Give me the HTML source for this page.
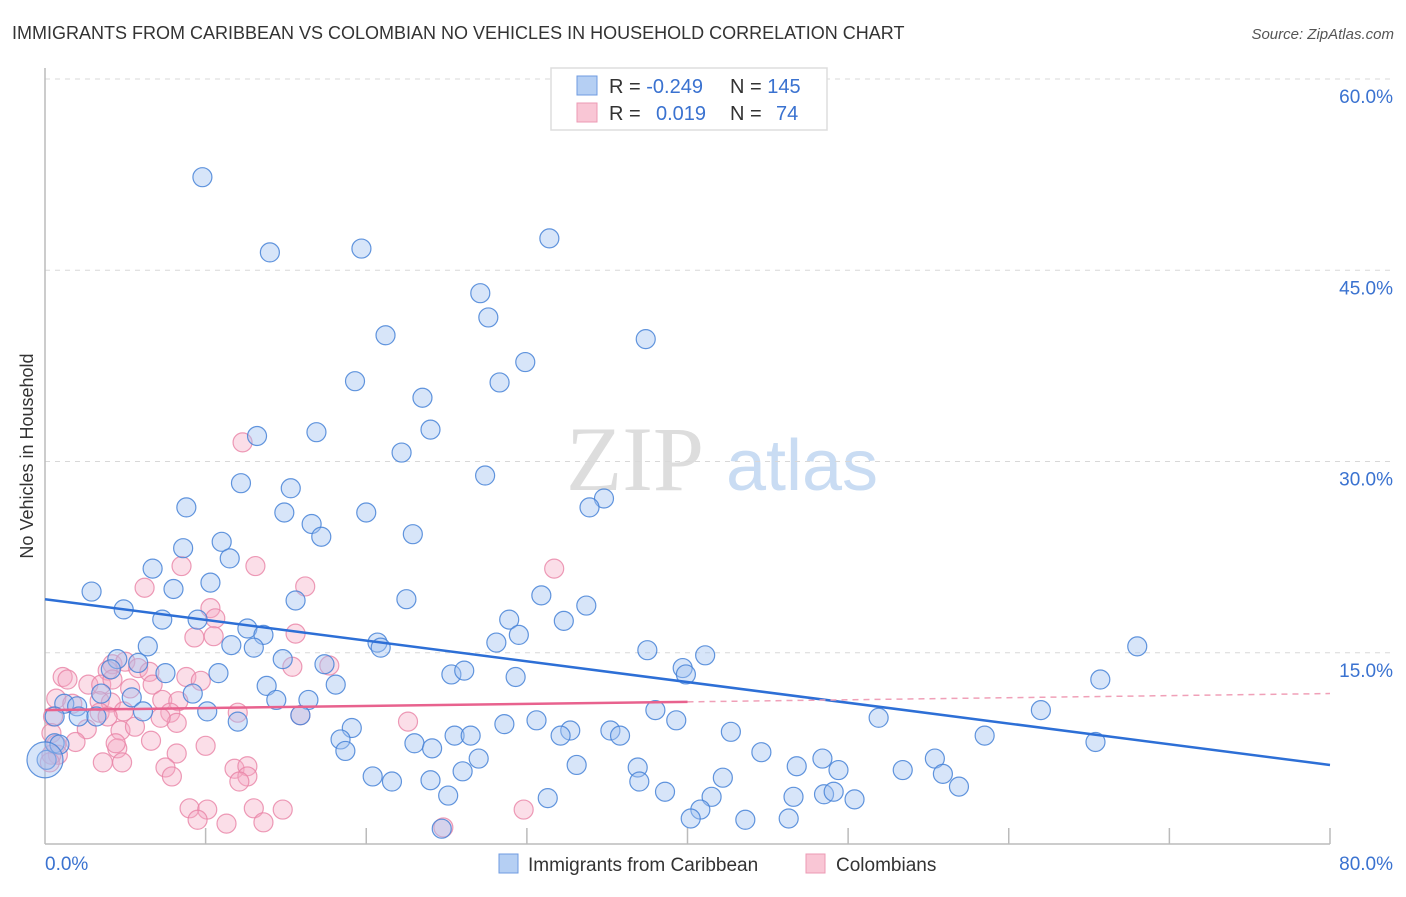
<!DOCTYPE html>
<html><head><meta charset="utf-8"><style>
body{margin:0;background:#fff;font-family:"Liberation Sans",sans-serif}
svg text{font-family:"Liberation Sans",sans-serif}
</style></head><body>
<svg id="chart" width="1406" height="892" xmlns="http://www.w3.org/2000/svg">
<text x="12" y="39" font-size="18" fill="#333">IMMIGRANTS FROM CARIBBEAN VS COLOMBIAN NO VEHICLES IN HOUSEHOLD CORRELATION CHART</text>
<text x="1394" y="39" font-size="15" fill="#555" font-style="italic" text-anchor="end">Source: ZipAtlas.com</text>
<text x="33" y="456" font-size="18" fill="#333" text-anchor="middle" transform="rotate(-90 33 456)">No Vehicles in Household</text>
<g>
<text x="635" y="490" font-size="92" fill="#ddd" text-anchor="middle" font-family="Liberation Serif" style="font-family:'Liberation Serif',serif">ZIP</text>
<text x="802" y="490" font-size="72" fill="#c9dcf3" text-anchor="middle">atlas</text>
</g>
<g id="grid"></g><g id="axes"></g><g id="trend"></g><g id="pts"></g>
<g>
<rect x="551" y="68" width="276" height="62" fill="#fff" stroke="#ddd" stroke-width="1.5"/>
<rect x="577" y="76" width="20" height="19" fill="#b5cff3" stroke="#6f9be0"/>
<rect x="577" y="103" width="20" height="19" fill="#f9c6d5" stroke="#ec9ab4"/>
<text x="609" y="93" font-size="20" fill="#333">R = <tspan fill="#3a72d0">-0.249</tspan></text>
<text x="730" y="93" font-size="20" fill="#333">N = <tspan fill="#3a72d0">145</tspan></text>
<text x="609" y="120" font-size="20" fill="#333">R = <tspan fill="#3a72d0" x="656">0.019</tspan></text>
<text x="730" y="120" font-size="20" fill="#333">N = <tspan fill="#3a72d0" x="776">74</tspan></text>
</g>
<g>
<rect x="499" y="854" width="19" height="19" fill="#b5cff3" stroke="#6f9be0"/>
<text x="528" y="871" font-size="19" fill="#333">Immigrants from Caribbean</text>
<rect x="806" y="854" width="19" height="19" fill="#f9c6d5" stroke="#ec9ab4"/>
<text x="836" y="871" font-size="19" fill="#333">Colombians</text>
</g>
</svg>
<script>
const yTicks=[15,30,45,60];
const xTickLabels=["0.0%","80.0%"];
const blueX=[9.8,14,19.7,31.4,27.1,27.6,21.2,29.9,37.4,19.3,28.3,23.5,24,13.2,16.9,22.2,27.4,12.2,15.3,8.8,14.9,20,34.8,33.9,16.6,17.2,22.9,8.6,11,11.5,6.7,10.3,2.9,8,22.5,15.6,30.9,33.7,4.9,28.9,32.3,7.3,9.5,12.6,13.6,11.6,13,29.5,28.1,20.7,20.9,6.4,37.5,41.1,4.5,4.1,5.8,14.8,17.4,7.5,10.8,39.7,39.9,25.3,26.1,29.3,68,65.7,13.8,18.1,9.2,3.5,5.4,14.4,16.4,1.2,2,0.6,2.1,3.2,6.1,10.1,15.9,38,62,51.9,39.3,12,19.1,28.6,30.6,32.7,35.2,35.8,32.1,42.7,25.5,26.5,18.4,18.7,23,24.1,27,44.6,58.5,65.4,26,33.1,36.9,48.4,46.8,49.4,53.4,55.4,55.9,56.9,20.4,21.6,24,37,42.2,48.5,49.1,50.4,38.6,41.5,46.6,31.3,25.1,40.8,40.2,43.6,46.3,24.7,0.1,0.6,0.9];
const blueY=[52.3,46.4,46.7,47.5,43.2,41.3,39.9,37.8,39.6,36.3,36.2,35,32.5,32,32.3,30.7,28.9,28.3,27.9,26.4,26,26,27.1,26.4,25.1,24.1,24.3,23.2,23.7,22.4,21.6,20.5,19.8,20,19.2,19.1,19.5,18.7,18.4,17.6,17.5,17.6,17.6,16.9,16.4,15.6,15.4,16.4,15.8,15.8,15.4,15.5,15.2,14.8,14.5,13.7,14.2,14.5,14.1,13.4,13.4,13.8,13.3,13.3,13.6,13.1,15.5,12.9,12.4,12.5,11.8,11.8,11.5,11.3,11.3,11,10.8,10,10,10,10.4,10.4,10.1,10.5,10.5,9.9,9.7,9.6,9.1,9.4,9.7,8.9,8.9,8.5,8.5,8.8,8.5,8.5,8.2,7.3,7.9,7.5,6.7,7.2,8.5,8,5.7,6.2,6,6.7,6.1,5.8,5.8,6.7,5.5,4.5,5.3,4.9,5,4.9,5.2,3.9,4.1,3.5,4.1,3.7,3.7,3.6,3.8,2.7,2,1.9,2,1.2,6.6,7.9,7.8];
const pinkX=[12.3,13.1,8.5,16.2,31.7,6.2,10.3,10.6,9.3,10.5,15.6,17.7,15.4,4.2,5,3.9,5.8,6.5,1.1,1.4,2.7,3.5,4.2,8.8,9.7,5.3,6.7,0.7,1.7,3.4,4.1,7.3,8.3,4.9,3.4,7.8,12,8.2,3.9,15.9,22.6,7.2,0.5,0.4,2.6,4.7,5.6,1.9,6.6,8.2,10,4.5,3.6,4.8,0.7,0.8,7.5,7.9,11.8,12.6,12.6,12.1,4.4,9,10.1,9.5,11.3,13,13.6,14.8,24.8,29.8,0.4,0.3];
const pinkY=[31.5,21.8,21.8,20.2,21.6,20.1,18.5,17.7,16.2,16.3,16.5,14,13.9,14.1,14.3,13.6,13.8,13.5,13.1,12.9,12.5,12.5,12.9,13.1,12.8,12.2,12.5,11.4,11,11.2,11.1,11.3,11.2,10.4,10.3,10.3,10.3,9.5,10,10.1,9.6,9.9,10,8.7,9,8.9,9.2,8,8.1,7.1,7.7,7.5,6.4,6.4,7.8,7,6,5.3,5.9,6.1,5.3,4.9,7.9,2.8,2.7,1.9,1.6,2.8,1.7,2.7,1.3,2.7,7,6.4];
const blueTrend=[19.2,6.2];
const pinkTrend=[10.5,11.8];
const pinkSolidEnd=40;

const NS="http://www.w3.org/2000/svg";
const X0=45,X1=1330,Y0=844,Y1=79;
const sx=v=>X0+v/80*(X1-X0);
const sy=v=>Y0-v/60*(Y0-Y1);
function mk(tag,attrs,parent){const e=document.createElementNS(NS,tag);for(const k in attrs)e.setAttribute(k,attrs[k]);parent.appendChild(e);return e;}
const grid=document.getElementById('grid'),axes=document.getElementById('axes'),trend=document.getElementById('trend'),pts=document.getElementById('pts');
yTicks.forEach(t=>{
 const l=mk('line',{x1:X0,x2:1393,y1:sy(t),y2:sy(t),stroke:'#d8d8d8','stroke-dasharray':'5,5'},grid);
 
 
 const tx=mk('text',{x:1393,y:sy(t)+24,'font-size':19,fill:'#3a72d0','text-anchor':'end'},grid);
 tx.textContent=t.toFixed(1)+'%';
 
 
});
const ax=mk('line',{x1:X0,x2:X1,y1:Y0,y2:Y0,stroke:'#bbb','stroke-width':1.5},axes);


const ay=mk('line',{x1:X0,x2:X0,y1:68,y2:Y0,stroke:'#bbb','stroke-width':1.5},axes);


for(let v=10;v<=80;v+=10){
 const t=mk('line',{x1:sx(v),x2:sx(v),y1:Y0-16,y2:Y0,stroke:'#bbb','stroke-width':1.5},axes);
 
 
}
const xl0=mk('text',{x:X0,y:870,'font-size':19,fill:'#3a72d0'},axes);xl0.textContent=xTickLabels[0];


const xl1=mk('text',{x:1393,y:870,'font-size':19,fill:'#3a72d0','text-anchor':'end'},axes);xl1.textContent=xTickLabels[1];



function drawPts(xs,ys,fill,stroke,name){
 xs.forEach((x,i)=>{
  const c=mk('circle',{cx:sx(x),cy:sy(ys[i]),r:9.5,fill:fill,stroke:stroke,'stroke-width':1.2},pts);
  
  
 });
}
drawPts(pinkX,pinkY,'rgba(245,168,195,0.38)','rgba(232,130,165,0.8)','colombians');
drawPts(blueX,blueY,'rgba(160,194,240,0.42)','rgba(70,130,215,0.85)','caribbean');
const big=mk('circle',{cx:sx(0),cy:sy(6.6),r:18,fill:'rgba(160,194,240,0.42)',stroke:'rgba(70,130,215,0.85)','stroke-width':1.2},pts);



const bt=mk('line',{x1:sx(0),y1:sy(blueTrend[0]),x2:sx(80),y2:sy(blueTrend[1]),stroke:'#2d6fd6','stroke-width':2.5},pts);


const pm=pinkTrend[0]+(pinkTrend[1]-pinkTrend[0])*pinkSolidEnd/80;
const pt=mk('line',{x1:sx(0),y1:sy(pinkTrend[0]),x2:sx(pinkSolidEnd),y2:sy(pm),stroke:'#e8628e','stroke-width':2.5},pts);


const pd=mk('line',{x1:sx(pinkSolidEnd),y1:sy(pm),x2:sx(80),y2:sy(pinkTrend[1]),stroke:'#f0a0b8','stroke-width':1.5,'stroke-dasharray':'6,5'},pts);


</script>
</body></html>
